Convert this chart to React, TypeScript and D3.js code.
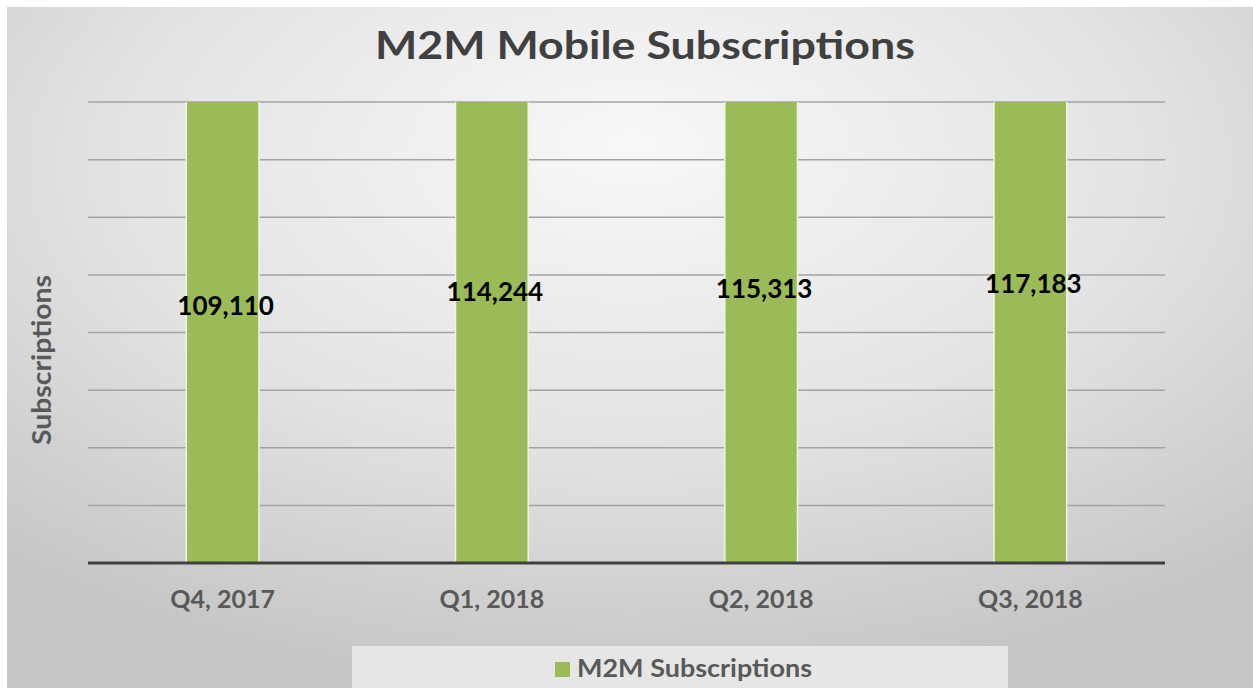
import React, { useRef, useEffect } from 'react';
import * as d3 from 'd3';

const categories = ['Q4, 2017', 'Q1, 2018', 'Q2, 2018', 'Q3, 2018'];
const subscriptions = [109110, 114244, 115313, 117183];
const seriesName = 'M2M Subscriptions';
const axisMax = 80000; // the visible axis stops below the data, bars run off the top

const WIDTH = 1253;
const HEIGHT = 688;
const FONT = "Lato, 'Open Sans', sans-serif";

const App: React.FC = () => {
  const ref = useRef<SVGSVGElement>(null);

  useEffect(() => {
    const svg = d3.select(ref.current!);
    svg.selectAll('*').remove();

    const margin = { top: 102, right: 88, bottom: 125, left: 88 };
    const boundsWidth = WIDTH - margin.left - margin.right;
    const boundsHeight = HEIGHT - margin.top - margin.bottom;

    const defs = svg.append('defs');
    const grad = defs.append('radialGradient')
      .attr('id', 'bg')
      .attr('cx', '50%').attr('cy', '25%').attr('r', '75%')
      .attr('fx', '50%').attr('fy', '20%');
    grad.append('stop').attr('offset', '0%').attr('stop-color', '#f8f8f8');
    grad.append('stop').attr('offset', '55%').attr('stop-color', '#e3e3e3');
    grad.append('stop').attr('offset', '100%').attr('stop-color', '#c6c6c6');

    defs.append('clipPath').attr('id', 'plotClip')
      .append('rect')
      .attr('x', 0).attr('y', 0)
      .attr('width', boundsWidth).attr('height', boundsHeight);

    svg.append('rect').attr('width', WIDTH).attr('height', HEIGHT).attr('fill', '#ffffff');
    svg.append('rect')
      .attr('x', 7).attr('y', 7)
      .attr('width', WIDTH - 7).attr('height', HEIGHT - 7)
      .attr('fill', 'url(#bg)');

    // title
    svg.append('text')
      .attr('x', 645).attr('y', 59)
      .attr('text-anchor', 'middle')
      .attr('font-family', FONT)
      .attr('font-weight', 700)
      .attr('font-size', 39)
      .attr('fill', '#404040')
      .attr('textLength', 540)
      .attr('lengthAdjust', 'spacingAndGlyphs')
      .text('M2M Mobile Subscriptions');

    const xScale = d3.scaleBand()
      .domain(categories)
      .range([0, boundsWidth])
      .paddingInner(0.73)
      .paddingOuter(0.365);

    const yScale = d3.scaleLinear()
      .domain([0, axisMax])
      .range([boundsHeight, 0]);

    // data labels sit a little higher for larger values
    const labelY = d3.scaleLinear()
      .domain([d3.min(subscriptions)!, d3.max(subscriptions)!])
      .range([315 - margin.top, 293 - margin.top]);

    const plot = svg.append('g')
      .attr('transform', `translate(${margin.left},${margin.top})`);

    plot.append('g')
      .selectAll('line')
      .data(yScale.ticks(8).filter(t => t > 0))
      .enter().append('line')
      .attr('x1', 0).attr('x2', boundsWidth)
      .attr('y1', d => yScale(d)).attr('y2', d => yScale(d))
      .attr('stroke', '#a3a3a3')
      .attr('stroke-width', 1.5);

    plot.append('g')
      .attr('clip-path', 'url(#plotClip)')
      .selectAll('rect')
      .data(subscriptions)
      .enter().append('rect')
      .attr('x', (d, i) => xScale(categories[i])!)
      .attr('width', xScale.bandwidth())
      .attr('y', d => yScale(d))
      .attr('height', d => boundsHeight - yScale(d))
      .attr('fill', '#9bbb59')
      .attr('stroke', '#eef5e0')
      .attr('stroke-width', 1.5);

    plot.append('line')
      .attr('x1', 0).attr('x2', boundsWidth)
      .attr('y1', boundsHeight).attr('y2', boundsHeight)
      .attr('stroke', '#404040')
      .attr('stroke-width', 3);

    plot.append('g')
      .selectAll('text')
      .data(subscriptions)
      .enter().append('text')
      .attr('x', (d, i) => xScale(categories[i])! + xScale.bandwidth() / 2 + 3)
      .attr('y', d => labelY(d))
      .attr('text-anchor', 'middle')
      .attr('font-family', FONT)
      .attr('font-weight', 700)
      .attr('font-size', 26)
      .attr('fill', '#000000')
      .text(d => d3.format(',')(d));

    // category axis labels
    plot.append('g')
      .selectAll('text')
      .data(categories)
      .enter().append('text')
      .attr('x', d => xScale(d)! + xScale.bandwidth() / 2)
      .attr('y', boundsHeight + 45)
      .attr('text-anchor', 'middle')
      .attr('font-family', FONT)
      .attr('font-weight', 700)
      .attr('font-size', 25)
      .attr('fill', '#595959')
      .text(d => d);

    // y axis title
    svg.append('text')
      .attr('transform', 'translate(51,360) rotate(-90)')
      .attr('text-anchor', 'middle')
      .attr('font-family', FONT)
      .attr('font-weight', 700)
      .attr('font-size', 26)
      .attr('fill', '#595959')
      .attr('textLength', 170)
      .attr('lengthAdjust', 'spacingAndGlyphs')
      .text('Subscriptions');

    // legend
    const legend = svg.append('g');
    legend.append('rect')
      .attr('x', 352).attr('y', 646)
      .attr('width', 656).attr('height', 42)
      .attr('fill', '#ebebeb')
      .attr('opacity', 0.85);
    legend.append('rect')
      .attr('x', 555).attr('y', 662)
      .attr('width', 15).attr('height', 15)
      .attr('fill', '#9bbb59');
    legend.append('text')
      .attr('x', 577).attr('y', 677)
      .attr('font-family', FONT)
      .attr('font-weight', 700)
      .attr('font-size', 25)
      .attr('fill', '#595959')
      .attr('textLength', 235)
      .attr('lengthAdjust', 'spacingAndGlyphs')
      .text(seriesName);
  }, []);

  return (
    <svg
      ref={ref}
      width={WIDTH}
      height={HEIGHT}
      style={{ position: 'absolute', left: 0, top: 0, display: 'block' }}
    ></svg>
  );
};

export default App;
